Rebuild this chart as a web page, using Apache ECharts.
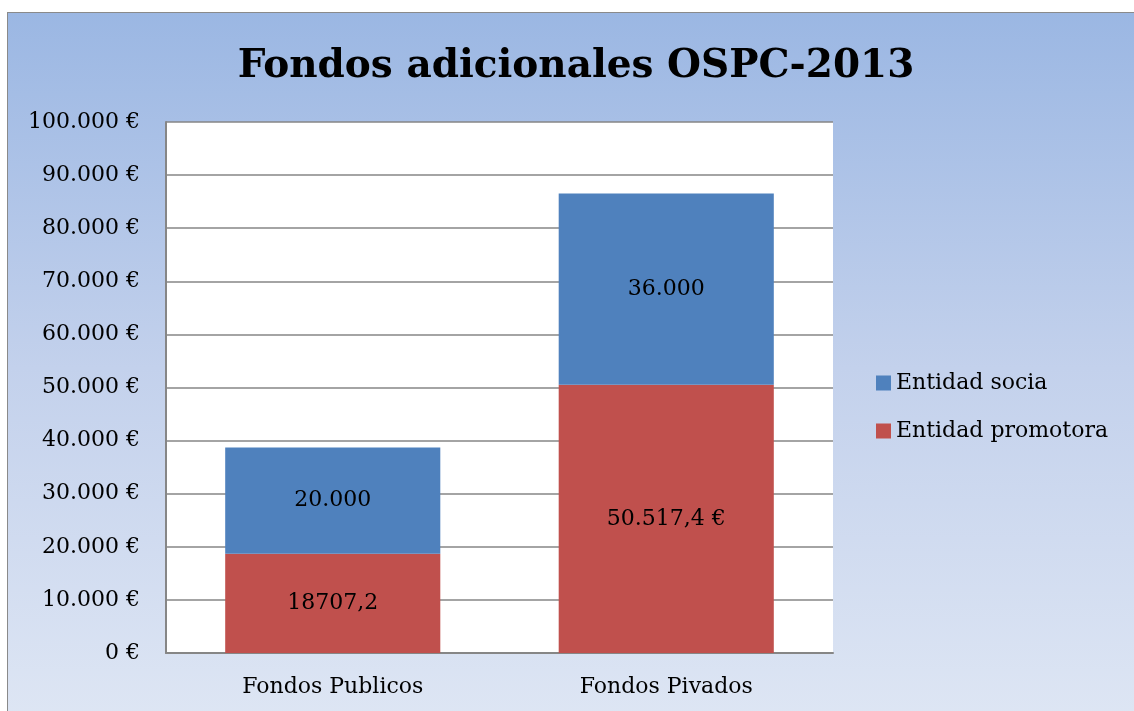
<!DOCTYPE html>
<html>
<head>
<meta charset="utf-8">
<script src="https://cdn.jsdelivr.net/npm/echarts@6/dist/echarts.min.js"></script>
<style>
  html, body { margin: 0; padding: 0; background: #ffffff; overflow: hidden; }
  #bg { position: absolute; left: 7px; top: 12px; width: 1140px; height: 710px;
        border: 1.5px solid #8a8a8a;
        background: linear-gradient(to bottom, #9bb7e3 0%, #c3d1ec 50%, #dee6f4 100%); }
  #chart { position: absolute; left: 0; top: 0; width: 1134px; height: 711px; }
</style>
</head>
<body>
<div id="bg"></div>
<div id="chart"></div>
<script>
const categories = ['Fondos Publicos', 'Fondos Pivados'];
const promotora = [18707.2, 50517.4];
const socia = [20000, 36000];
const promotoraLabels = ['18707,2', '50.517,4 €'];
const sociaLabels = ['20.000', '36.000'];
const yTicks = { min: 0, max: 100000, interval: 10000 };

const FONT = '"DejaVu Serif", serif';
function fmtEuro(v) {
  return String(v).replace(/\B(?=(\d{3})+(?!\d))/g, '.') + ' €';
}

const chart = echarts.init(document.getElementById('chart'), null, { renderer: 'canvas' });
chart.setOption({
  backgroundColor: 'transparent',
  animation: false,
  title: {
    text: 'Fondos adicionales OSPC-2013',
    left: 571, top: 42, textAlign: 'center',
    textStyle: { fontFamily: FONT, fontWeight: 'bold', fontSize: 39, color: '#000' }
  },
  legend: {
    orient: 'vertical', left: 876, top: 372, padding: 0,
    itemWidth: 15, itemHeight: 15, itemGap: 26, itemTextGap: 7,
    icon: 'rect',
    data: ['Entidad socia', 'Entidad promotora'],
    textStyle: { fontFamily: FONT, fontSize: 22, color: '#000' }
  },
  grid: {
    left: 166, top: 122, width: 667, height: 531,
    show: true, backgroundColor: '#ffffff', borderWidth: 0
  },
  xAxis: {
    type: 'category', data: categories,
    axisLine: { lineStyle: { color: '#868686', width: 2 } },
    axisTick: { show: false },
    axisLabel: { fontFamily: FONT, fontSize: 22, color: '#000', margin: 23 }
  },
  yAxis: {
    type: 'value', min: yTicks.min, max: yTicks.max, interval: yTicks.interval,
    axisLine: { show: true, lineStyle: { color: '#868686', width: 2 } },
    axisTick: { show: false },
    splitLine: { lineStyle: { color: '#868686', width: 1.5 } },
    axisLabel: { fontFamily: FONT, fontSize: 22, color: '#000', margin: 26,
                 formatter: fmtEuro }
  },
  series: [
    {
      name: 'Entidad promotora', type: 'bar', stack: 'total', data: promotora,
      barWidth: '64.5%',
      itemStyle: { color: '#c0504d' },
      label: { show: true, position: 'inside', fontFamily: FONT, fontSize: 22, color: '#000',
               formatter: p => promotoraLabels[p.dataIndex] }
    },
    {
      name: 'Entidad socia', type: 'bar', stack: 'total', data: socia,
      barWidth: '64.5%',
      itemStyle: { color: '#4f81bd' },
      label: { show: true, position: 'inside', fontFamily: FONT, fontSize: 22, color: '#000',
               formatter: p => sociaLabels[p.dataIndex] }
    }
  ]
});
</script>
</body>
</html>
